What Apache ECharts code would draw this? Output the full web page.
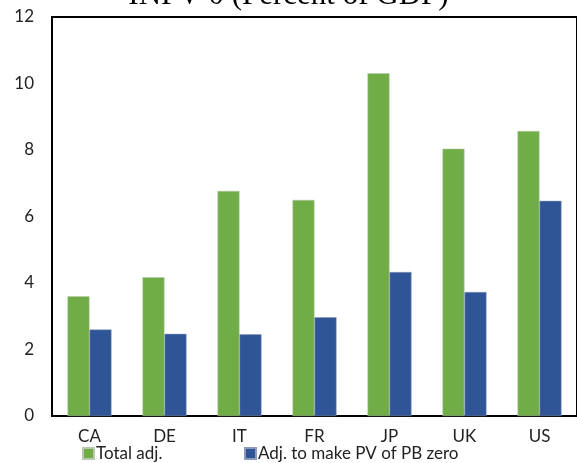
<!DOCTYPE html>
<html lang="en">
<head>
    <meta charset="UTF-8">
    <title>Chart</title>
    <script src="https://cdn.jsdelivr.net/npm/echarts@6/dist/echarts.min.js"></script>
    <style>
        body { margin: 0; background: #fff; }
        #main { width: 577px; height: 463px; }
    </style>
</head>
<body>
<div id="main"></div>
<script>
    // data
    var countries = ['CA', 'DE', 'IT', 'FR', 'JP', 'UK', 'US']
    var totalAdj = [3.6, 4.17, 6.77, 6.5, 10.31, 8.04, 8.57]
    var pbZeroAdj = [2.6, 2.47, 2.46, 2.97, 4.33, 3.73, 6.47]
    var seriesNames = ['Total adj.', 'Adj. to make PV of PB zero']

    var font = 'Lato, "Open Sans", sans-serif'
    var chart = echarts.init(document.getElementById('main'))
    var option = {
        animation: false,
        title: {
            text: 'INPV 0 (Percent of GDP)',
            left: 'center',
            top: -25,
            textStyle: {
                fontFamily: '"Liberation Serif", serif',
                fontSize: 31,
                fontWeight: 'normal',
                color: '#000'
            }
        },
        // two legends so each item sits where the original has it
        legend: [{
            data: [seriesNames[0]],
            left: 77,
            top: 440,
            itemWidth: 11,
            itemHeight: 11,
            icon: 'rect',
            textStyle: { fontFamily: font, fontSize: 17, color: '#222', padding: [0, 0, 0, -3] }
        }, {
            data: [seriesNames[1]],
            left: 239,
            top: 440,
            itemWidth: 11,
            itemHeight: 11,
            icon: 'rect',
            textStyle: { fontFamily: font, fontSize: 17, color: '#222', padding: [0, 0, 0, -3] }
        }],
        grid: {
            left: 52,
            right: -7,
            top: 17,
            bottom: 47,
            show: true,
            borderColor: '#000',
            borderWidth: 2
        },
        xAxis: {
            type: 'category',
            data: countries,
            axisLine: { lineStyle: { color: '#000', width: 2 } },
            axisTick: { show: false },
            axisLabel: { fontFamily: font, fontSize: 17, color: '#222', margin: 12 }
        },
        yAxis: {
            type: 'value',
            min: 0,
            max: 12,
            interval: 2,
            splitLine: { show: false },
            axisLine: { show: true, lineStyle: { color: '#000', width: 2 } },
            axisTick: { show: false },
            axisLabel: { fontFamily: font, fontSize: 17, color: '#222', margin: 18 }
        },
        series: [{
            name: seriesNames[0],
            type: 'bar',
            data: totalAdj,
            barWidth: 22,
            barGap: '0%',
            itemStyle: { color: '#70AD47', borderColor: '#b9c9b0', borderWidth: 0.5 }
        }, {
            name: seriesNames[1],
            type: 'bar',
            data: pbZeroAdj,
            barWidth: 22,
            itemStyle: { color: '#2F5597', borderColor: '#8a9bbd', borderWidth: 0.5 }
        }]
    }
    chart.setOption(option)
</script>
</body>
</html>
